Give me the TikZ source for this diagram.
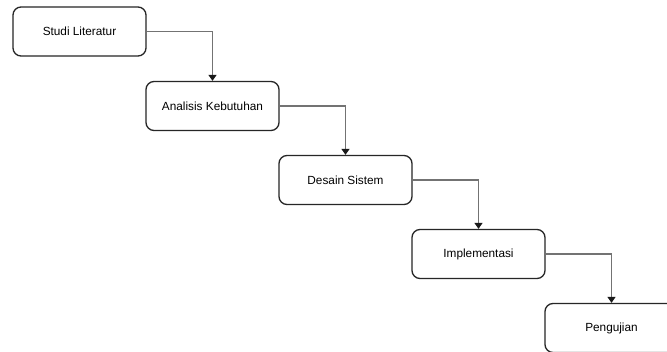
\documentclass[tikz,border=0pt]{standalone}
\usepackage{fontspec}
\setmainfont{Liberation Sans}
\usetikzlibrary{arrows.meta}
\begin{document}
\begin{tikzpicture}[x=1pt,y=-1pt,
  stepbox/.style={draw=black!85,line width=1.3pt,rounded corners=8pt,minimum width=133pt,minimum height=49pt,inner sep=0pt,font=\fontsize{11.8}{14}\selectfont,text=black},
  conn/.style={draw=black!55,line width=1.3pt,-{Triangle[length=6pt,width=8pt,fill=black!90,color=black!90]}}]
\useasboundingbox (0,0) rectangle (667,351);
\fill[white] (0,0) rectangle (667,351);
\node[stepbox] (s1) at (79.5,31.5) {Studi Literatur};
\node[stepbox] (s2) at (212.5,106) {Analisis Kebutuhan};
\node[stepbox] (s3) at (345.5,180) {Desain Sistem};
\node[stepbox] (s4) at (478.5,254) {Implementasi};
\node[stepbox] (s5) at (611.5,328) {Pengujian};
\draw[conn] (s1.east) -| (s2.north);
\draw[conn] (s2.east) -| (s3.north);
\draw[conn] (s3.east) -| (s4.north);
\draw[conn] (s4.east) -| (s5.north);
\end{tikzpicture}
\end{document}
